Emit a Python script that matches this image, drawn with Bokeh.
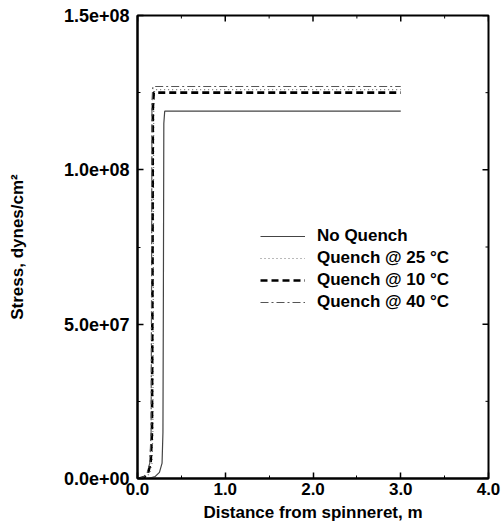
import math
from bokeh.plotting import figure
from bokeh.models import (LinearAxis, SingleIntervalTicker, Legend, LegendItem,
                          Range1d, NumeralTickFormatter)
from bokeh.embed import file_html
from bokeh.resources import INLINE

# ---- data ----
dist_noq = [0.12, 0.20, 0.25, 0.28, 0.29, 0.295, 0.30, 0.31, 1.0, 2.0, 3.0]
stress_noq = [0.0, 0.6e6, 2.0e6, 5.0e6, 1.5e7, 6.0e7, 1.15e8, 1.19e8, 1.19e8, 1.19e8, 1.19e8]

dist_q25 = [0.04, 0.10, 0.14, 0.165, 0.175, 0.18, 0.185, 0.195, 1.0, 2.0, 3.0]
stress_q25 = [0.0, 0.5e6, 1.8e6, 5.0e6, 1.5e7, 6.0e7, 1.2e8, 1.26e8, 1.26e8, 1.26e8, 1.26e8]

dist_q10 = [0.02, 0.08, 0.12, 0.15, 0.165, 0.17, 0.175, 0.185, 1.0, 2.0, 3.0]
stress_q10 = [0.0, 0.5e6, 1.8e6, 5.0e6, 1.5e7, 6.0e7, 1.2e8, 1.25e8, 1.25e8, 1.25e8, 1.25e8]

dist_q40 = [0.01, 0.07, 0.11, 0.14, 0.155, 0.16, 0.165, 0.175, 1.0, 2.0, 3.0]
stress_q40 = [0.0, 0.5e6, 1.8e6, 5.0e6, 1.5e7, 6.0e7, 1.22e8, 1.27e8, 1.27e8, 1.27e8, 1.27e8]

series_names = ["No Quench", "Quench @ 25 °C", "Quench @ 10 °C", "Quench @ 40 °C"]

x_tick_values = [0, 1, 2, 3, 4]
y_tick_values = [0, 50000000, 100000000, 150000000]
y_tick_labels = ["0.0e+00", "5.0e+07", "1.0e+08", "1.5e+08"]

FONT = "Liberation Sans"
FS = "17px"
FS_Y = "18px"

X0, X1 = x_tick_values[0], x_tick_values[-1]
Y0, Y1 = y_tick_values[0], y_tick_values[-1]

p = figure(width=501, height=527, output_backend="svg", toolbar_location=None,
           x_range=Range1d(X0, X1), y_range=Range1d(Y0, Y1),
           x_axis_type=None, y_axis_type=None,
           min_border_left=137, min_border_right=13, min_border_top=15, min_border_bottom=49)
p.xgrid.visible = False
p.ygrid.visible = False
p.outline_line_color = "black"
p.outline_line_width = 2
p.background_fill_color = "white"
p.border_fill_color = "white"

def style(ax, fs):
    ax.axis_line_color = "black"
    ax.axis_line_width = 2
    ax.major_tick_in = 6
    ax.major_tick_out = 0
    ax.minor_tick_in = 3
    ax.minor_tick_out = 0
    ax.major_tick_line_width = 1.5
    ax.minor_tick_line_width = 1
    ax.major_label_text_font = FONT
    ax.major_label_text_font_style = "bold"
    ax.major_label_text_color = "black"
    ax.major_label_text_font_size = fs
    ax.axis_label_text_font = FONT
    ax.axis_label_text_font_style = "bold"
    ax.axis_label_text_color = "black"
    ax.axis_label_text_font_size = FS

xt = SingleIntervalTicker(interval=1, num_minor_ticks=2)
yt = SingleIntervalTicker(interval=5e7, num_minor_ticks=2)

xb = LinearAxis(ticker=xt, formatter=NumeralTickFormatter(format="0.0"),
                axis_label="Distance from spinneret, m")
style(xb, FS)
xb.major_label_standoff = 4
xb.axis_label_standoff = 5
p.add_layout(xb, "below")

yl = LinearAxis(ticker=yt, axis_label="Stress, dynes/cm²")
yl.major_label_overrides = dict(zip(y_tick_values, y_tick_labels))
style(yl, FS_Y)
yl.major_label_standoff = 8
yl.axis_label_standoff = 34
p.add_layout(yl, "left")

# mirrored inward ticks on top and right edges (clipped to the frame)
x_major = x_tick_values
x_minor = [(a + b) / 2 for a, b in zip(x_tick_values[:-1], x_tick_values[1:])]
y_major = y_tick_values
y_minor = [(a + b) / 2 for a, b in zip(y_tick_values[:-1], y_tick_values[1:])]
p.scatter(x_major, [Y1] * len(x_major), marker="dash", angle=math.pi / 2, size=12,
          line_color="black", line_width=1.5)
p.scatter(x_minor, [Y1] * len(x_minor), marker="dash", angle=math.pi / 2, size=6,
          line_color="black", line_width=1)
p.scatter([X1] * len(y_major), y_major, marker="dash", size=12,
          line_color="black", line_width=1.5)
p.scatter([X1] * len(y_minor), y_minor, marker="dash", size=6,
          line_color="black", line_width=1)

r1 = p.line(dist_noq, stress_noq, line_color="#444444", line_width=1.2)
r2 = p.line(dist_q25, stress_q25, line_color="#777777", line_width=1.2, line_dash="1 3")
r3 = p.line(dist_q10, stress_q10, line_color="black", line_width=2.6, line_dash="7 4")
r4 = p.line(dist_q40, stress_q40, line_color="#555555", line_width=1.2, line_dash="8 3 2 3")

legend = Legend(items=[LegendItem(label=n, renderers=[r]) for n, r in
                       zip(series_names, [r1, r2, r3, r4])],
                location=(123, 166))
legend.border_line_color = None
legend.background_fill_alpha = 0
legend.label_text_font = FONT
legend.label_text_font_style = "bold"
legend.label_text_font_size = FS
legend.label_text_color = "black"
legend.glyph_width = 45
legend.glyph_height = 20
legend.label_height = 20
legend.spacing = 2
legend.padding = 5
legend.margin = 0
legend.label_standoff = 12
p.add_layout(legend, "center")

open("out.html", "w").write(file_html(p, INLINE))
